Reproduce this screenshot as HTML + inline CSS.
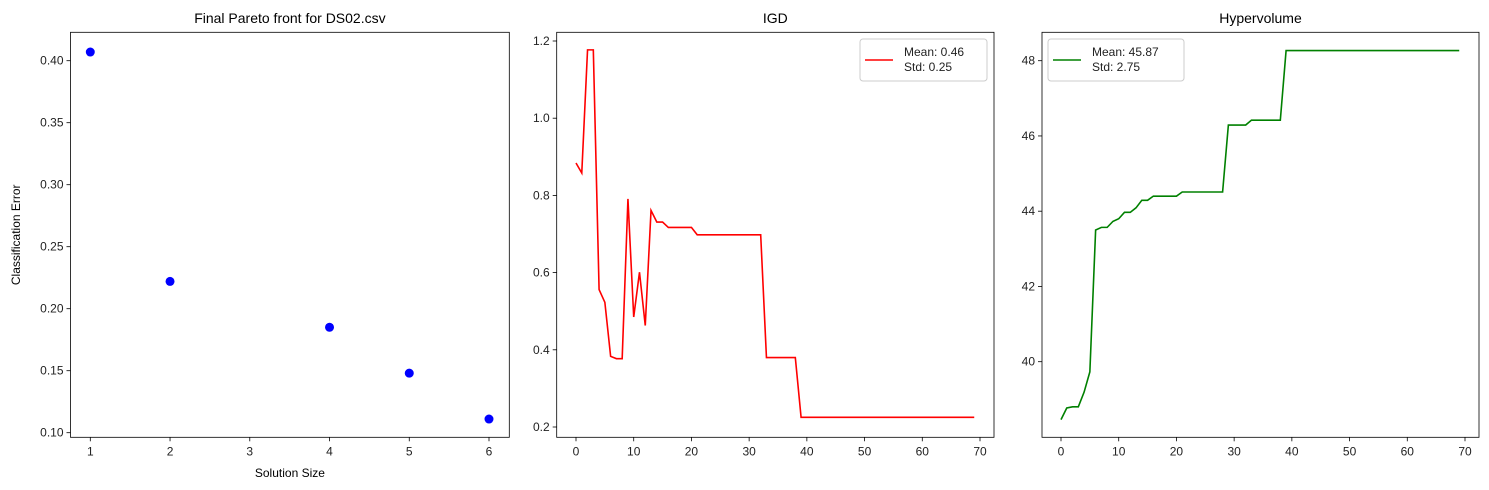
<!DOCTYPE html>
<html><head><meta charset="utf-8"><style>
body{margin:0;background:#fff}
svg{display:block;font-family:"Liberation Sans","DejaVu Sans",sans-serif}
</style></head><body>
<svg id="c" width="1489" height="490" xmlns="http://www.w3.org/2000/svg"></svg>
<script>
const paretoX=[1,2,4,5,6];
const paretoY=[0.407,0.222,0.185,0.148,0.111];
const paretoXTicks=[1,2,3,4,5,6];
const paretoYTicks=[0.10,0.15,0.20,0.25,0.30,0.35,0.40];
const igd=[0.884,0.858,1.177,1.177,0.556,0.523,0.383,0.377,0.377,0.791,0.485,0.601,0.463,0.761,0.731,0.731,0.717,0.717,0.717,0.717,0.717,0.698,0.698,0.698,0.698,0.698,0.698,0.698,0.698,0.698,0.698,0.698,0.698,0.38,0.38,0.38,0.38,0.38,0.38,0.225,0.225,0.225,0.225,0.225,0.225,0.225,0.225,0.225,0.225,0.225,0.225,0.225,0.225,0.225,0.225,0.225,0.225,0.225,0.225,0.225,0.225,0.225,0.225,0.225,0.225,0.225,0.225,0.225,0.225,0.225];
const hv=[38.46,38.77,38.8,38.8,39.19,39.73,43.5,43.57,43.57,43.73,43.8,43.97,43.97,44.09,44.29,44.29,44.4,44.4,44.4,44.4,44.4,44.51,44.51,44.51,44.51,44.51,44.51,44.51,44.51,46.29,46.29,46.29,46.29,46.42,46.42,46.42,46.42,46.42,46.42,48.27,48.27,48.27,48.27,48.27,48.27,48.27,48.27,48.27,48.27,48.27,48.27,48.27,48.27,48.27,48.27,48.27,48.27,48.27,48.27,48.27,48.27,48.27,48.27,48.27,48.27,48.27,48.27,48.27,48.27,48.27];
const iterTicks=[0,10,20,30,40,50,60,70];
const igdYTicks=[0.2,0.4,0.6,0.8,1.0,1.2];
const hvYTicks=[40,42,44,46,48];

const S="http://www.w3.org/2000/svg", svg=document.getElementById('c');
function el(t,a,p){const e=document.createElementNS(S,t);for(const k in a)e.setAttribute(k,a[k]);(p||svg).appendChild(e);return e;}
function txt(s,a,p){const e=el('text',a,p);e.textContent=s;return e;}
function lin(d0,d1,r0,r1){return v=>r0+(v-d0)*(r1-r0)/(d1-d0);}

function axes(name,L,R,T,B,sx,sy,xt,yt,xfmt,yfmt,title){
  const g=el('g',{});
  
  
  xt.forEach(v=>{const x=sx(v);el('line',{x1:x,x2:x,y1:B,y2:B+4,stroke:'#000','stroke-width':0.8},g);
    const t=txt(xfmt(v),{x:x,y:B+18,'font-size':12,'text-anchor':'middle',fill:'#222'},g);
    });
  yt.forEach(v=>{const y=sy(v);el('line',{x1:L-4,x2:L,y1:y,y2:y,stroke:'#000','stroke-width':0.8},g);
    const t=txt(yfmt(v),{x:L-7,y:y+4,'font-size':12,'text-anchor':'end',fill:'#222'},g);
    });
  const tt=txt(title,{x:(L+R)/2,y:23,'font-size':14,'text-anchor':'middle',fill:'#000'},g);
  
  return g;
}
function frame(g,L,R,T,B){el('rect',{x:L,y:T,width:R-L,height:B-T,fill:'none',stroke:'#000','stroke-width':0.8},g);}

// Panel 1
{const L=70.5,R=509.3,T=32.3,B=437.3;
 const sx=lin(1,6,90.3,489), sy=lin(0.10,0.40,432.7,60.7);
 const g=axes('pareto-panel',L,R,T,B,sx,sy,paretoXTicks,paretoYTicks,v=>String(v),v=>v.toFixed(2),'Final Pareto front for DS02.csv');
 paretoX.forEach((x,i)=>{const c=el('circle',{cx:sx(x),cy:sy(paretoY[i]),r:4.5,fill:'#0000ff'},g);
   });
 frame(g,L,R,T,B);
 const xl=txt('Solution Size',{x:(L+R)/2,y:477,'font-size':12,'text-anchor':'middle'},g);
 
 const yl=txt('Classification Error',{x:0,y:0,'font-size':12,'text-anchor':'middle',transform:`translate(20,${(T+B)/2}) rotate(-90)`},g);
 }

function linePanel(name,L,R,x0,data,yt,ylo,yhi,ylopx,yhipx,fmt,title,color,legL,legW,meanS,stdS){
 const T=32.3,B=437.3;
 const sx=lin(0,70,x0,x0+404), sy=lin(ylo,yhi,ylopx,yhipx);
 const g=axes(name,L,R,T,B,sx,sy,iterTicks,yt,v=>String(v),fmt,title);
 const p=el('polyline',{points:data.map((v,i)=>sx(i)+','+sy(v)).join(' '),fill:'none',stroke:color,'stroke-width':1.6},g);
 
 frame(g,L,R,T,B);
 const lg=el('g',{},g);
 
 el('rect',{x:legL,y:39,width:legW,height:42,rx:3,fill:'#fff',stroke:'#ccc'},lg);
 el('line',{x1:legL+5,x2:legL+33,y1:60,y2:60,stroke:color,'stroke-width':1.6},lg);
 txt(meanS,{x:legL+44,y:56,'font-size':12,fill:'#222'},lg);
 txt(stdS,{x:legL+44,y:71,'font-size':12,fill:'#222'},lg);
}
linePanel('igd-panel',556.7,994,576,igd,igdYTicks,0.2,1.2,427,41,v=>v.toFixed(1),'IGD','#ff0000',860,127,'Mean: 0.46','Std: 0.25');
linePanel('hypervolume-panel',1042,1479,1061,hv,hvYTicks,40,48,361.7,60.7,v=>String(v),'Hypervolume','#008000',1048,136,'Mean: 45.87','Std: 2.75');
</script>
</body></html>
